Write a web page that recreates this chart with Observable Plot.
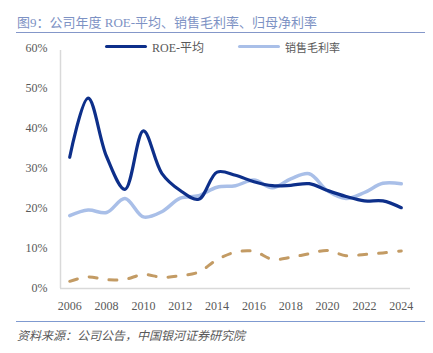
<!DOCTYPE html>
<html>
<head>
<meta charset="utf-8">
<script src="https://cdn.jsdelivr.net/npm/d3@7"></script>
<script src="https://cdn.jsdelivr.net/npm/@observablehq/plot@0.6"></script>
<style>
  body { margin: 0; background: #fff; width: 433px; height: 353px; position: relative; overflow: hidden; }
  .title { position: absolute; left: 17px; top: 12px; font-family: "Liberation Serif", "Noto Sans CJK SC", serif; font-size: 13px; color: #7d92c4; white-space: nowrap; }
  .rule { position: absolute; left: 16px; width: 409px; height: 0; }
  .legend { position: absolute; top: 38px; font-family: "Liberation Serif", "Noto Sans CJK SC", serif; font-size: 12px; color: #595959; white-space: nowrap; }
  .sw { position: absolute; height: 3.5px; border-radius: 2px; }
  .caption { position: absolute; left: 17px; top: 326px; font-family: "Noto Sans CJK SC", sans-serif; font-style: italic; font-size: 12px; color: #595959; white-space: nowrap; }
  #chart { position: absolute; left: 0; top: 40px; }
</style>
</head>
<body>
<div class="title">图9：公司年度 ROE-平均、销售毛利率、归母净利率</div>
<div class="rule" style="top:32px; border-top:1.5px solid #8497c9;"></div>
<div id="chart"></div>
<div class="sw" style="left:105px; top:44.5px; width:42px; background:#0d2f8a;"></div>
<div class="legend" style="left:152px;">ROE-平均</div>
<div class="sw" style="left:238px; top:44.5px; width:42px; background:#a9bfe8;"></div>
<div class="legend" style="left:285px; font-size:11px; top:39px;">销售毛利率</div>
<div class="rule" style="top:321px; border-top:1.5px solid #7f9ad0;"></div>
<div class="caption">资料来源：公司公告，中国银河证券研究院</div>
<script>
const years = [2006,2007,2008,2009,2010,2011,2012,2013,2014,2015,2016,2017,2018,2019,2020,2021,2022,2023,2024];
const roe   = [32.8,47.6,33.0,24.8,39.4,28.8,24.5,22.3,29.1,28.3,26.7,25.7,25.8,26.2,24.5,23.0,21.9,21.9,20.2];
const gross = [18.2,19.6,19.0,22.5,17.9,19.2,22.6,23.2,25.3,25.7,27.1,25.2,27.4,28.7,24.4,22.5,24.0,26.3,26.2];
const net   = [1.8,2.9,2.2,2.3,3.5,2.8,3.2,4.1,7.2,9.1,9.3,7.3,7.8,8.7,9.5,8.2,8.5,8.9,9.4];
const yTicks = [0,10,20,30,40,50,60];
const xTicks = [2006,2008,2010,2012,2014,2016,2018,2020,2022,2024];

const mk = arr => years.map((y, i) => ({year: y, v: arr[i]}));
const roeData = mk(roe), grossData = mk(gross), netData = mk(net);

const chart = Plot.plot({
  width: 433,
  height: 270,
  marginLeft: 60,
  marginRight: 23,
  marginTop: 8,
  marginBottom: 22,
  style: {fontFamily: "Liberation Serif, serif", fontSize: "12px", color: "#595959", background: "transparent", overflow: "visible"},
  x: {domain: [2005.5, 2024.5], ticks: xTicks, tickFormat: d => String(d), tickSize: 0, tickPadding: 13, label: null},
  y: {domain: [0, 60], ticks: yTicks, tickFormat: d => d + "%", tickSize: 0, tickPadding: 13, label: null},
  marks: [
    Plot.ruleY([0], {stroke: "#d9d9d9", strokeWidth: 1.5}),
    Plot.ruleX([2005.5], {y1: 0, y2: 59.5, stroke: "#d9d9d9", strokeWidth: 1.5}),
    Plot.line(netData, {x: "year", y: "v", stroke: "#c39b64", strokeWidth: 3, strokeDasharray: "8,12", strokeLinecap: "round", curve: "catmull-rom"}),
    Plot.line(grossData, {x: "year", y: "v", stroke: "#a9bfe8", strokeWidth: 3.5, curve: "catmull-rom"}),
    Plot.line(roeData, {x: "year", y: "v", stroke: "#0d2f8a", strokeWidth: 3.2, curve: "catmull-rom"})
  ]
});
document.getElementById("chart").appendChild(chart);
</script>
</body>
</html>
